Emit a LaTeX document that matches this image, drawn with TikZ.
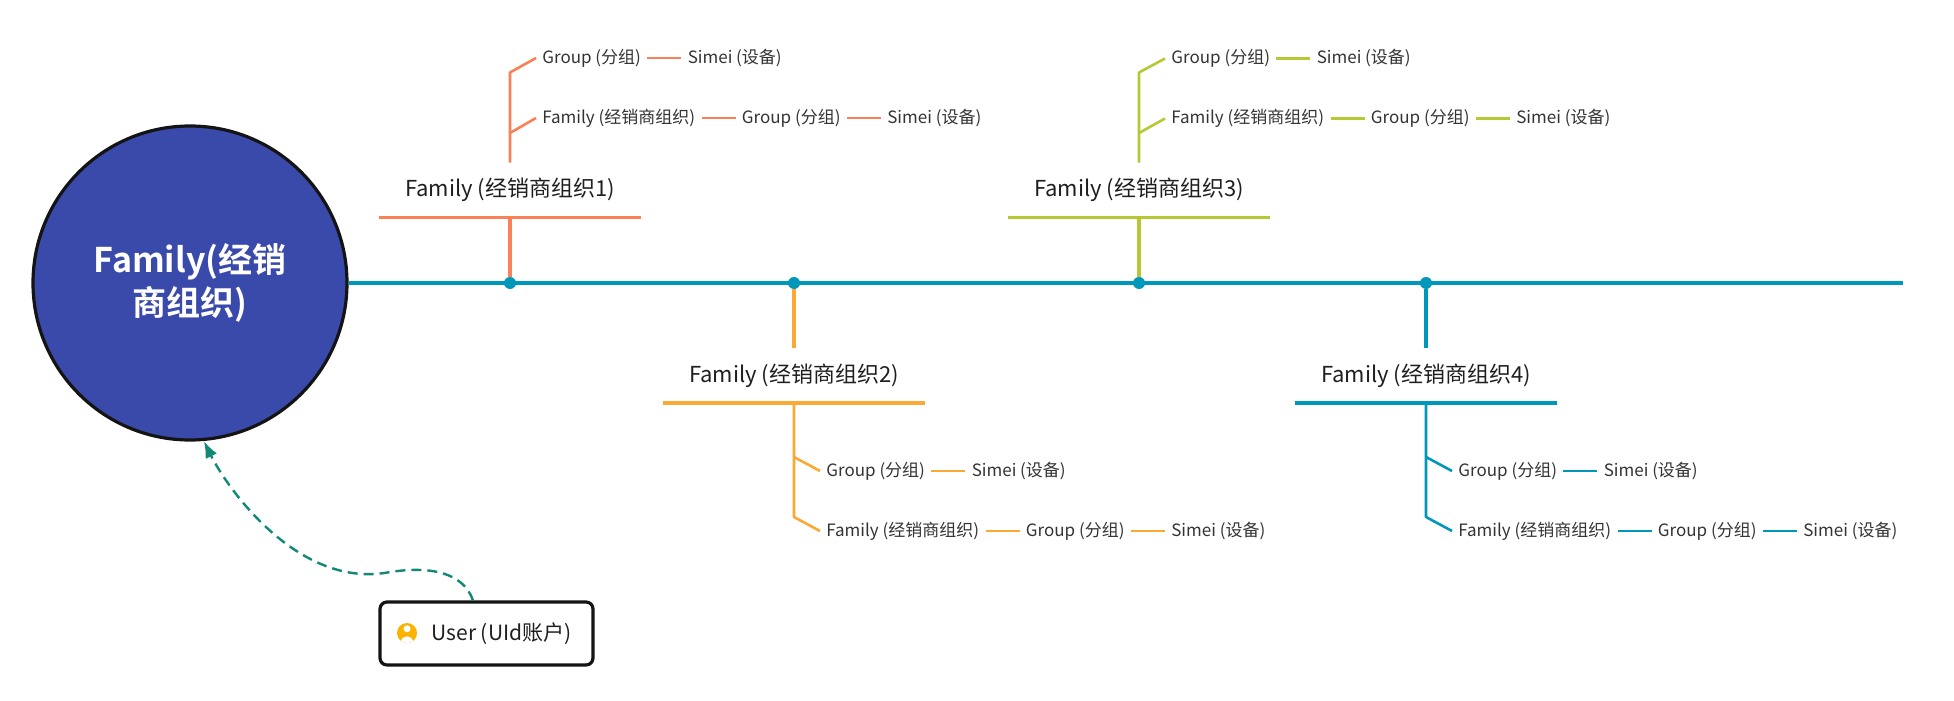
\documentclass[tikz,border=0pt]{standalone}
\usepackage{fontspec}
\setmainfont{Noto Sans CJK SC}[BoldFont={Noto Sans CJK SC Bold}]
\usetikzlibrary{positioning,arrows.meta}
\definecolor{trunkcol}{RGB}{0,152,186}
\definecolor{brone}{RGB}{250,128,88}
\definecolor{brtwo}{RGB}{250,170,52}
\definecolor{brthree}{RGB}{184,200,52}
\definecolor{hubfill}{RGB}{58,74,170}
\definecolor{linkcol}{RGB}{18,136,118}
\definecolor{iconcol}{RGB}{252,178,0}
\begin{document}
\begin{tikzpicture}[x=0.5pt, y=-0.5pt, >=Latex, line join=round, node distance=17pt,
    hub/.style={circle, draw=black!92, line width=1.6pt, fill=hubfill, minimum size=157pt, inner sep=0pt,
        text=white, align=center, font=\bfseries\fontsize{17}{21.5}\selectfont},
    trunk/.style={trunkcol, line width=1.7pt},
    dotnode/.style={circle, fill=trunkcol, inner sep=0pt, minimum size=6pt},
    famlabel/.style={minimum width=131pt, minimum height=27pt, inner sep=0pt, text=black!88,
        font=\fontsize{11}{13}\selectfont},
    bar/.style={line width=1.7pt},
    stemline/.style={line width=1.3pt},
    leaf/.style={inner xsep=3pt, inner ysep=2pt, text=black!80, font=\fontsize{8.5}{10}\selectfont},
    leafline/.style={line width=1.1pt},
    userbox/.style={draw=black!92, fill=white, line width=1.6pt, rounded corners=3.5pt, minimum width=106.5pt,
        minimum height=31.5pt, font=\fontsize{10.5}{12}\selectfont, text=black!88},
    usericon/.style={circle, fill=iconcol, minimum size=10pt, inner sep=0pt,
        path picture={
            \fill[white] ([yshift=2.1pt]path picture bounding box.center) circle (1.75pt);
            \fill[white] ([yshift=-5pt]path picture bounding box.center) ellipse (3.2pt and 3.3pt);
        }},
    link/.style={linkcol, line width=1.2pt, dash pattern=on 5pt off 3pt, ->}]
\useasboundingbox (0,0) rectangle (1954,701);

\node[hub] (hub) at (190,283) {Family(经销\\商组织)};
\coordinate (lineend) at (1903,283);
\draw[trunk] (hub) -- (lineend);

\node[dotnode] (d1) at (510,283) {};
\node[dotnode] (d2) at (794,283) {};
\node[dotnode] (d3) at (1139,283) {};
\node[dotnode] (d4) at (1426,283) {};

\node[famlabel] (f1) at (510,190) {Family (经销商组织1)};
\node[famlabel] (f2) at (794,375.5) {Family (经销商组织2)};
\node[famlabel] (f3) at (1139,190) {Family (经销商组织3)};
\node[famlabel] (f4) at (1426,375.5) {Family (经销商组织4)};

\draw[brone, bar] (f1.south west) -- (f1.south east);
\draw[brone, bar] (d1) -- (f1.south);
\draw[brtwo, bar] (f2.south west) -- (f2.south east);
\draw[brtwo, bar] (d2) -- (f2.north);
\draw[brthree, bar] (f3.south west) -- (f3.south east);
\draw[brthree, bar] (d3) -- (f3.south);
\draw[trunkcol, bar] (f4.south west) -- (f4.south east);
\draw[trunkcol, bar] (d4) -- (f4.north);

\coordinate (j1a) at (510,72.5);
\coordinate (j1b) at (510,133);
\node[leaf, anchor=west] (g1a) at (536,58) {Group (分组)};
\node[leaf, right=of g1a] (s1a) {Simei (设备)};
\node[leaf, anchor=west] (m1b) at (536,118) {Family (经销商组织)};
\node[leaf, right=of m1b] (g1b) {Group (分组)};
\node[leaf, right=of g1b] (s1b) {Simei (设备)};
\draw[brone, stemline] (f1.north) -- (j1a) -- (g1a.west);
\draw[brone, stemline] (j1b) -- (m1b.west);
\draw[brone, leafline] (g1a) -- (s1a);
\draw[brone, leafline] (m1b) -- (g1b);
\draw[brone, leafline] (g1b) -- (s1b);

\coordinate (j2a) at (794,457);
\coordinate (j2b) at (794,517);
\node[leaf, anchor=west] (g2a) at (820,471) {Group (分组)};
\node[leaf, right=of g2a] (s2a) {Simei (设备)};
\node[leaf, anchor=west] (m2b) at (820,531) {Family (经销商组织)};
\node[leaf, right=of m2b] (g2b) {Group (分组)};
\node[leaf, right=of g2b] (s2b) {Simei (设备)};
\draw[brtwo, stemline] (f2.south) -- (j2b) -- (m2b.west);
\draw[brtwo, stemline] (j2a) -- (g2a.west);
\draw[brtwo, leafline] (g2a) -- (s2a);
\draw[brtwo, leafline] (m2b) -- (g2b);
\draw[brtwo, leafline] (g2b) -- (s2b);

\coordinate (j3a) at (1139,72.5);
\coordinate (j3b) at (1139,133);
\node[leaf, anchor=west] (g3a) at (1165,58.5) {Group (分组)};
\node[leaf, right=of g3a] (s3a) {Simei (设备)};
\node[leaf, anchor=west] (m3b) at (1165,118.5) {Family (经销商组织)};
\node[leaf, right=of m3b] (g3b) {Group (分组)};
\node[leaf, right=of g3b] (s3b) {Simei (设备)};
\draw[brthree, stemline] (f3.north) -- (j3a) -- (g3a.west);
\draw[brthree, stemline] (j3b) -- (m3b.west);
\draw[brthree, leafline] (g3a) -- (s3a);
\draw[brthree, leafline] (m3b) -- (g3b);
\draw[brthree, leafline] (g3b) -- (s3b);

\coordinate (j4a) at (1426,457);
\coordinate (j4b) at (1426,517);
\node[leaf, anchor=west] (g4a) at (1452,471) {Group (分组)};
\node[leaf, right=of g4a] (s4a) {Simei (设备)};
\node[leaf, anchor=west] (m4b) at (1452,531) {Family (经销商组织)};
\node[leaf, right=of m4b] (g4b) {Group (分组)};
\node[leaf, right=of g4b] (s4b) {Simei (设备)};
\draw[trunkcol, stemline] (f4.south) -- (j4b) -- (m4b.west);
\draw[trunkcol, stemline] (j4a) -- (g4a.west);
\draw[trunkcol, leafline] (g4a) -- (s4a);
\draw[trunkcol, leafline] (m4b) -- (g4b);
\draw[trunkcol, leafline] (g4b) -- (s4b);

\node[userbox] (usr) at (486.5,633.5) {\hspace*{15pt}User (UId账户)};
\node[usericon] (ico) at (407,633) {};
\draw[link] ([xshift=-6.75pt]usr.north) .. controls (463,572) and (430,566) .. (390,572)
    .. controls (300,590) and (228,490) .. (hub.-85);
\end{tikzpicture}
\end{document}
